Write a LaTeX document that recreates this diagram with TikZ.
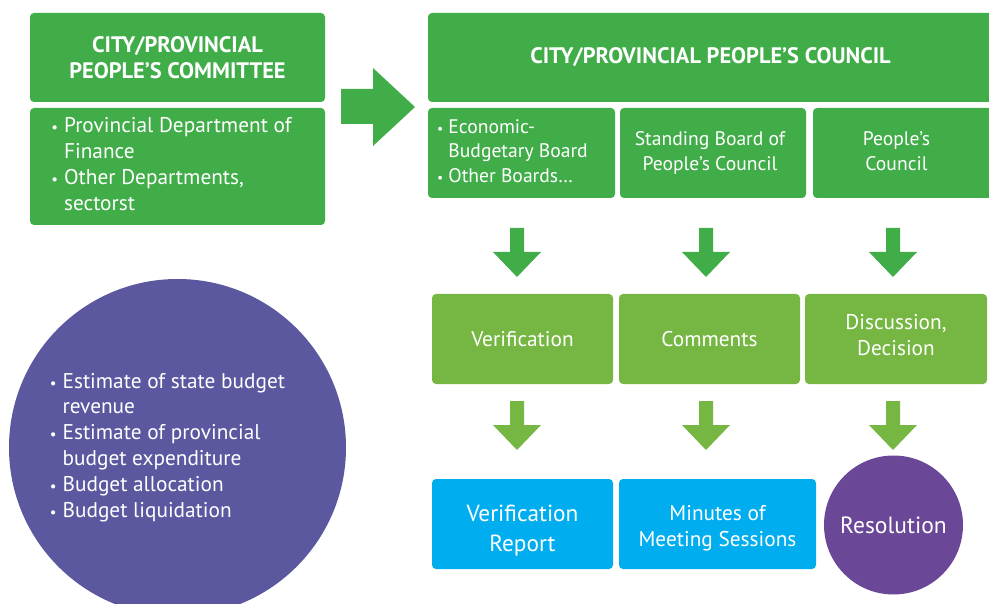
\documentclass[tikz,border=0pt]{standalone}
\usepackage{fontspec}
\setmainfont{PT Sans}
\definecolor{dkgreen}{HTML}{41AD49}
\definecolor{ltgreen}{HTML}{76B743}
\definecolor{skyblue}{HTML}{00AEEF}
\definecolor{slatepurple}{HTML}{5B58A0}
\definecolor{respurple}{HTML}{6B4798}
\newcommand{\bul}{\scalebox{0.7}{•}}
\tikzset{
  box/.style={rectangle, rounded corners=4pt, inner sep=0pt, text=white, align=center},
  gbox/.style={box, fill=dkgreen},
  lbox/.style={box, fill=ltgreen},
  bbox/.style={box, fill=skyblue},
  txt/.style={font=\fontsize{21.3}{25.8}\selectfont},
  hdr/.style={font=\bfseries\fontsize{22.4}{26}\selectfont},
  sml/.style={font=\fontsize{19.6}{24.5}\selectfont},
  downarr/.pic={\fill[pic actions] (-7,0) -- (7,0) -- (7,24) -- (24,24) -- (0,49) -- (-24,24) -- (-7,24) -- cycle;}
}
\begin{document}
\begin{tikzpicture}[x=1pt,y=-1pt]
\useasboundingbox (0,0) rectangle (989,604);
% left column
\node[gbox, hdr, minimum width=295pt, minimum height=89pt] (cmt) at (177.5,57.5) {CITY/PROVINCIAL\\PEOPLE’S COMMITTEE};
\node[gbox, txt, minimum width=295pt, minimum height=117pt] (cmtl) at (177.5,166.5)
  {\begin{tabular}{@{}l@{\hspace{6pt}}l@{\hspace{12pt}}}\bul & Provincial Department of\\ & Finance\\ \bul & Other Departments,\\ & sectorst\end{tabular}};
% big arrow
\fill[dkgreen] (341,89) -- (373,89) -- (373,68) -- (415,107) -- (373,146) -- (373,124) -- (341,124) -- cycle;
% council
\node[gbox, hdr, minimum width=565pt, minimum height=89pt] (cnc) at (710.5,57.5) {CITY/PROVINCIAL PEOPLE’S COUNCIL};
\node[gbox, sml, minimum width=187pt, minimum height=90pt] (eco) at (521.5,153)
  {\begin{tabular}{@{}l@{\hspace{5pt}}l@{\hspace{18pt}}}\bul & Economic-\\ & Budgetary Board\\ \bul & Other Boards…\end{tabular}};
\node[gbox, sml, minimum width=186pt, minimum height=90pt] (stb) at (713,153)
  {\begin{tabular}{@{}c@{\hspace{6pt}}}Standing Board of\\People’s Council\end{tabular}};
\node[gbox, sml, minimum width=185pt, minimum height=90pt] (ppc) at (905.5,153)
  {\begin{tabular}{@{}c@{\hspace{18pt}}}People’s\\Council\end{tabular}};
% row 1 arrows
\pic[fill=dkgreen] at (517,228) {downarr};
\pic[fill=dkgreen] at (706,228) {downarr};
\pic[fill=dkgreen] at (893,228) {downarr};
% row 2
\node[lbox, txt, minimum width=181pt, minimum height=90pt] (ver) at (522.5,339) {Verification};
\node[lbox, txt, minimum width=181pt, minimum height=90pt] (com) at (709.5,339) {Comments};
\node[lbox, txt, minimum width=182pt, minimum height=90pt] (dis) at (896,339) {Discussion,\\Decision\rule[-8pt]{0pt}{8pt}};
% row 2 arrows
\pic[fill=ltgreen] at (517,401) {downarr};
\pic[fill=ltgreen] at (706,401) {downarr};
\pic[fill=ltgreen] at (893,401) {downarr};
% row 3
\node[bbox, font=\fontsize{23.3}{30}\selectfont, minimum width=181pt, minimum height=90pt] (vrep) at (522.5,524) {\rule{0pt}{30pt}Verification\\Report};
\node[bbox, txt, minimum width=197pt, minimum height=90pt] (min) at (717.5,524) {\rule{0pt}{24pt}Minutes of\\Meeting Sessions};
\node[circle, fill=respurple, text=white, font=\fontsize{23.5}{26}\selectfont, minimum size=139pt, inner sep=0pt] (res) at (893.5,525) {Resolution};
% big circle
\node[circle, fill=slatepurple, text=white, txt, minimum size=337pt, inner sep=0pt] (est) at (177.5,447.5)
  {\begin{tabular}{@{}l@{\hspace{6pt}}l@{\hspace{20pt}}}\bul & Estimate of state budget\\ & revenue\\ \bul & Estimate of provincial\\ & budget expenditure\\ \bul & Budget allocation\\ \bul & Budget liquidation\end{tabular}};
\end{tikzpicture}
\end{document}
